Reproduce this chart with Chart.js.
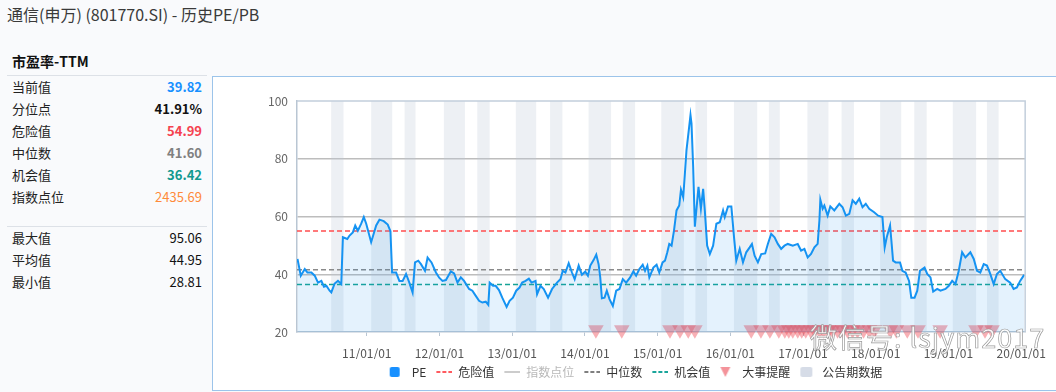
<!DOCTYPE html>
<html>
<head>
<meta charset="utf-8">
<script src="https://cdn.jsdelivr.net/npm/chart.js@4.4.1/dist/chart.umd.min.js"></script>
<style>
  body { margin: 0; width: 1056px; height: 392px; overflow: hidden; background: #f9fafc;
         font-family: "Noto Sans CJK SC", "Noto Sans", sans-serif; position: relative; color: #222; }
  #title { position: absolute; left: 7px; top: 3px; font-size: 16px; line-height: 22px; color: #3a3a3a; }
  #subtitle { position: absolute; left: 12px; top: 50px; font-size: 14px; line-height: 22px; font-weight: bold; color: #111; }
  .sep { position: absolute; left: 7px; width: 200px; height: 1px; background: #dde1e7; }
  .row { position: absolute; left: 12px; width: 190px; height: 22px; line-height: 22px; font-size: 13px; }
  .row span { position: absolute; right: 0; top: 0; }
  #box { position: absolute; left: 212px; top: 76px; width: 850px; height: 313px;
         background: #fff; border-left: 1px solid #9cc4ea; border-top: 1px solid #9cc4ea; border-bottom: 1px solid #9cc4ea; }
  #c { position: absolute; left: 0; top: 0; }
  #wm { position: absolute; left: 810px; top: 320px; font-size: 27px; line-height: 34px; color: rgba(255,255,255,0.9);
        -webkit-text-stroke: 0.7px #9a9a9a; letter-spacing: 1px; }
</style>
</head>
<body>
<div id="title">通信(申万) (801770.SI) - 历史PE/PB</div>
<div id="subtitle">市盈率-TTM</div>
<div class="sep" style="top:75px"></div>
<div id="stats"></div>
<div class="sep" style="top:226px"></div>
<div id="box"><canvas id="c" width="843" height="311" style="width:843px;height:311px"></canvas></div>
<div id="wm">微信号: lsjym2017</div>
<script>
// left panel
const statLabels = ['当前值', '分位点', '危险值', '中位数', '机会值', '指数点位'];
const statValues = ['39.82', '41.91%', '54.99', '41.60', '36.42', '2435.69'];
const statColors = ['#1890ff', '#111111', '#f5424f', '#808080', '#12998f', '#ff8a3a'];
const statBold = [true, true, true, true, true, false];
const extLabels = ['最大值', '平均值', '最小值'];
const extValues = ['95.06', '44.95', '28.81'];

// reference levels
const dangerValue = 54.99;
const medianValue = 41.60;
const chanceValue = 36.42;

// x axis (decimal years)
const X_MIN = 2010.04;
const X_MAX = 2020.055;
const tickYears = [2011, 2012, 2013, 2014, 2015, 2016, 2017, 2018, 2019, 2020];

// PE-TTM series
const peDates = [
  2010.047, 2010.092, 2010.147, 2010.184, 2010.238, 2010.284, 2010.329, 2010.375, 2010.411, 2010.444, 2010.489, 2010.512,
  2010.558, 2010.603, 2010.649, 2010.671, 2010.732, 2010.763, 2010.808, 2010.841, 2010.877, 2010.923, 2010.959, 2010.992,
  2011.060, 2011.129, 2011.174, 2011.233, 2011.288, 2011.325, 2011.348, 2011.403, 2011.448, 2011.493, 2011.540, 2011.585,
  2011.630, 2011.663, 2011.708, 2011.745, 2011.800, 2011.836, 2011.890, 2011.951, 2011.996,
  2012.041, 2012.088, 2012.156, 2012.201, 2012.247, 2012.293, 2012.338, 2012.407, 2012.452, 2012.499, 2012.544, 2012.589,
  2012.636, 2012.671, 2012.690, 2012.736, 2012.773, 2012.818, 2012.863, 2012.923, 2012.964,
  2013.010, 2013.055, 2013.101, 2013.137, 2013.184, 2013.229, 2013.266, 2013.321, 2013.342, 2013.389, 2013.434, 2013.493,
  2013.548, 2013.616, 2013.663, 2013.695, 2013.732, 2013.777, 2013.822, 2013.859, 2013.914, 2013.959,
  2014.005, 2014.041, 2014.074, 2014.119, 2014.156, 2014.188, 2014.211, 2014.233, 2014.270, 2014.301, 2014.338, 2014.384,
  2014.430, 2014.475, 2014.521, 2014.567, 2014.622, 2014.667, 2014.704, 2014.749, 2014.795, 2014.827, 2014.859, 2014.886,
  2014.941, 2014.986,
  2015.023, 2015.068, 2015.101, 2015.133, 2015.160, 2015.192, 2015.225, 2015.260, 2015.297, 2015.321, 2015.352, 2015.375,
  2015.397, 2015.434, 2015.452, 2015.466, 2015.489, 2015.512, 2015.562, 2015.595, 2015.626, 2015.649, 2015.681, 2015.718,
  2015.763, 2015.808, 2015.855, 2015.900, 2015.923, 2015.968,
  2016.014, 2016.051, 2016.082, 2016.129, 2016.174, 2016.219, 2016.266, 2016.297, 2016.334, 2016.379, 2016.425, 2016.479,
  2016.516, 2016.562, 2016.608, 2016.653, 2016.699, 2016.745, 2016.790, 2016.859, 2016.927, 2016.973,
  2017.019, 2017.064, 2017.110, 2017.156, 2017.201, 2017.225, 2017.238, 2017.270, 2017.293, 2017.338, 2017.375, 2017.430,
  2017.499, 2017.544, 2017.589, 2017.636, 2017.681, 2017.726, 2017.773, 2017.818, 2017.863, 2017.910, 2017.978,
  2018.033, 2018.092, 2018.123, 2018.151, 2018.197, 2018.215, 2018.238, 2018.274, 2018.334, 2018.366, 2018.411, 2018.458,
  2018.489, 2018.534, 2018.571, 2018.608, 2018.671, 2018.708, 2018.753, 2018.790, 2018.845, 2018.890, 2018.959,
  2019.005, 2019.051, 2019.096, 2019.142, 2019.188, 2019.233, 2019.301, 2019.348, 2019.393, 2019.438, 2019.485, 2019.530,
  2019.575, 2019.622, 2019.667, 2019.712, 2019.781, 2019.849, 2019.896, 2019.941, 2019.986, 2020.041
];
const peValues = [
  45.3, 39.5, 41.8, 40.6, 40.6, 39.5, 37.1, 37.7, 35.7, 36.0, 34.3, 33.7,
  36.8, 37.7, 36.6, 52.8, 52.2, 53.4, 54.5, 56.9, 55.1, 57.5, 59.8, 57.5,
  51.1, 56.9, 58.9, 58.4, 57.2, 54.9, 40.6, 40.6, 37.7, 37.7, 40.1, 37.1,
  33.7, 44.1, 44.7, 43.5, 41.2, 45.8, 44.1, 40.6, 38.8,
  37.7, 38.0, 41.0, 40.3, 37.1, 38.9, 37.7, 34.9, 34.3, 32.5, 30.8, 30.2,
  30.5, 29.4, 37.1, 36.0, 36.0, 34.5, 31.9, 28.7, 30.8,
  31.9, 34.3, 35.4, 37.1, 37.7, 38.5, 37.1, 37.7, 33.1, 36.0, 34.9, 31.9,
  34.9, 37.1, 38.3, 41.2, 40.6, 43.8, 40.6, 38.3, 43.0, 39.8,
  40.9, 39.5, 43.0, 44.9, 46.8, 43.5, 38.9, 31.7, 31.9, 34.3, 31.4, 29.0,
  34.3, 34.9, 38.3, 37.1, 38.9, 41.0, 39.5, 41.8, 43.3, 41.2, 43.0, 38.9,
  42.3, 43.3,
  40.6, 44.1, 44.7, 47.6, 50.5, 49.9, 55.1, 62.1, 63.8, 69.3, 66.7, 74.9,
  83.0, 91.1, 95.1, 92.2, 77.1, 56.5, 70.3, 62.7, 69.6, 62.1, 49.9, 47.0,
  49.9, 57.5, 58.0, 62.1, 59.8, 63.5,
  63.5, 52.8, 44.7, 48.8, 44.1, 47.6, 49.3, 50.5, 46.4, 44.1, 47.0, 47.2,
  50.5, 54.0, 52.8, 50.5, 48.8, 49.9, 50.5, 49.9, 50.5, 48.2,
  48.8, 45.8, 47.0, 49.3, 50.5, 58.6, 65.8, 62.7, 63.8, 60.3, 63.5, 62.1,
  64.4, 63.2, 60.3, 60.9, 65.6, 64.4, 66.2, 63.2, 64.4, 62.7, 61.5,
  60.3, 59.8, 49.3, 52.8, 56.9, 51.7, 44.7, 44.1, 44.1, 41.2, 40.6, 37.7,
  31.9, 31.9, 34.3, 41.2, 42.3, 40.1, 38.9, 34.0, 34.9, 34.3, 34.9,
  36.0, 37.7, 36.6, 41.2, 47.6, 45.8, 47.6, 45.3, 41.2, 40.6, 43.5, 43.0,
  40.1, 36.6, 40.1, 41.2, 38.3, 37.1, 34.9, 35.4, 37.7, 39.8
];

// 大事提醒
const eventDates = [
  2014.151, 2014.507, 2015.170, 2015.307, 2015.421, 2015.512, 2016.288, 2016.421, 2016.544, 2016.667,
  2016.749, 2016.804, 2016.859, 2016.927, 2016.982, 2017.037, 2017.105, 2017.160, 2017.229, 2017.284,
  2017.352, 2017.407, 2017.475, 2017.544, 2017.612, 2017.681, 2017.749, 2017.832, 2017.914, 2017.982,
  2018.201, 2018.284, 2018.434, 2018.581, 2018.886, 2019.379, 2019.503, 2019.599
];

// 公告期数据
const reportStarts = [2010.51, 2011.06, 2011.52, 2012.06, 2012.52, 2013.05, 2013.52, 2014.05, 2014.52, 2015.05,
                      2015.52, 2016.05, 2016.53, 2017.06, 2017.53, 2018.06, 2018.53, 2019.06, 2019.53];
const reportEnds   = [2010.68, 2011.35, 2011.67, 2012.35, 2012.69, 2013.33, 2013.69, 2014.36, 2014.69, 2015.36,
                      2015.68, 2016.37, 2016.68, 2017.35, 2017.70, 2018.35, 2018.70, 2019.38, 2019.69];

const legendNames = ['PE', '危险值', '指数点位', '中位数', '机会值', '大事提醒', '公告期数据'];

// ---- left panel
const stats = document.getElementById('stats');
function addRow(label, value, y, color, bold) {
  const d = document.createElement('div');
  d.className = 'row';
  d.style.top = y + 'px';
  d.innerHTML = label + '<span style="color:' + color + ';font-weight:' + (bold ? 'bold' : 'normal') + '">' + value + '</span>';
  stats.appendChild(d);
}
statLabels.forEach((l, i) => addRow(l, statValues[i], 76 + i * 22, statColors[i], statBold[i]));
extLabels.forEach((l, i) => addRow(l, extValues[i], 227 + i * 22, '#111', false));

// ---- legend markers
function marker(draw) {
  const c = document.createElement('canvas');
  c.width = 19; c.height = 12;
  const g = c.getContext('2d');
  g.translate(3, 0);
  draw(g);
  return c;
}
function lineMarker(color, dash) {
  return marker(g => {
    g.strokeStyle = color; g.lineWidth = 2; g.setLineDash(dash);
    g.beginPath(); g.moveTo(0, 6); g.lineTo(16, 6); g.stroke();
  });
}
const legendMarkers = [
  marker(g => { g.fillStyle = '#1890ff'; g.beginPath(); g.roundRect(0, 1, 10, 10, 2); g.fill(); }),
  lineMarker('#ff5a5f', [4, 2]),
  lineMarker('#cccccc', []),
  lineMarker('#7f7f7f', [4, 2]),
  lineMarker('#1aa59b', [4, 2]),
  marker(g => { g.fillStyle = '#f4939a'; g.beginPath(); g.moveTo(0, 1); g.lineTo(10, 1); g.lineTo(5, 11); g.closePath(); g.fill(); }),
  marker(g => { g.fillStyle = '#d6dce7'; g.beginPath(); g.roundRect(0, 1, 12, 10, 2); g.fill(); })
];

// ---- plugins
const bandsPlugin = {
  id: 'bands',
  beforeDatasetsDraw(chart) {
    const { ctx, chartArea: a, scales: { x } } = chart;
    ctx.save();
    ctx.fillStyle = 'rgba(190,200,215,0.28)';
    reportStarts.forEach((s, i) => {
      const x0 = x.getPixelForValue(s);
      const x1 = x.getPixelForValue(reportEnds[i]);
      ctx.fillRect(x0, a.top, x1 - x0, a.bottom - a.top);
    });
    ctx.restore();
  }
};
const framePlugin = {
  id: 'frame',
  afterDatasetsDraw(chart) {
    const { ctx, chartArea: a } = chart;
    ctx.save();
    ctx.strokeStyle = '#c2cedb';
    ctx.lineWidth = 1.5;
    ctx.beginPath();
    ctx.moveTo(a.left, a.top); ctx.lineTo(a.right, a.top); ctx.lineTo(a.right, a.bottom);
    ctx.stroke();
    ctx.restore();
  }
};

function refLine(label, value, color) {
  return {
    type: 'line', label, borderColor: color, borderWidth: 1.5, borderDash: [5, 3],
    pointRadius: 0, fill: false,
    data: [{ x: X_MIN, y: value }, { x: X_MAX, y: value }]
  };
}

Chart.defaults.font.family = '"Noto Sans CJK SC", "Noto Sans", sans-serif';
Chart.defaults.font.size = 12;

new Chart(document.getElementById('c'), {
  type: 'line',
  data: {
    datasets: [
      {
        label: 'PE',
        data: peDates.map((d, i) => ({ x: d, y: peValues[i] })),
        borderColor: '#1593f2', borderWidth: 2, pointRadius: 0, tension: 0,
        fill: 'start', backgroundColor: 'rgba(30,150,240,0.12)'
      },
      {
        label: '大事提醒',
        data: eventDates.map(d => ({ x: d, y: 20.8 })),
        showLine: false, pointStyle: 'triangle', rotation: 180, pointRadius: 9,
        pointBackgroundColor: 'rgba(240,80,92,0.45)', pointBorderWidth: 0, clip: false
      },
      refLine('危险值', dangerValue, '#ff4d4f'),
      refLine('中位数', medianValue, '#8a8a8a'),
      refLine('机会值', chanceValue, '#16a396')
    ]
  },
  options: {
    responsive: false,
    animation: false,
    layout: { padding: { top: 24, left: 0, right: 0, bottom: 0 } },
    scales: {
      x: {
        type: 'linear', min: X_MIN, max: X_MAX,
        afterBuildTicks: s => { s.ticks = tickYears.map(v => ({ value: v })); },
        afterFit: s => { s.height = 27; },
        ticks: {
          autoSkip: false, maxRotation: 0, padding: 10, color: '#555',
          callback: v => String(v % 100).padStart(2, '0') + '/01/01'
        },
        grid: { drawOnChartArea: false, drawTicks: true, tickLength: 4, color: '#b9c6d3' },
        border: { color: '#b9c6d3', width: 1.5 }
      },
      y: {
        min: 20, max: 100,
        afterFit: s => { s.width = 84; },
        ticks: { stepSize: 20, padding: 9, color: '#666' },
        grid: {
          drawTicks: false, lineWidth: 1.5,
          color: c => (c.tick.value === 20 || c.tick.value === 100) ? 'rgba(0,0,0,0)' : '#bdbdbd'
        },
        border: { color: '#b9c6d3', width: 1.5 }
      },
      yR: {
        position: 'right', display: true,
        afterFit: s => { s.width = 28; },
        ticks: { display: false }, grid: { display: false }, border: { display: false }
      }
    },
    plugins: {
      tooltip: { enabled: false },
      legend: {
        position: 'bottom',
        onClick: () => {},
        labels: {
          usePointStyle: true, pointStyleWidth: 19, padding: 7, color: '#333',
          font: { size: 12 },
          generateLabels: () => legendNames.map((t, i) => ({
            text: t, pointStyle: legendMarkers[i], hidden: false, lineWidth: 0,
            fontColor: i === 2 ? '#b8b8b8' : '#333', datasetIndex: 0
          }))
        }
      }
    }
  },
  plugins: [bandsPlugin, framePlugin]
});
</script>
</body>
</html>
